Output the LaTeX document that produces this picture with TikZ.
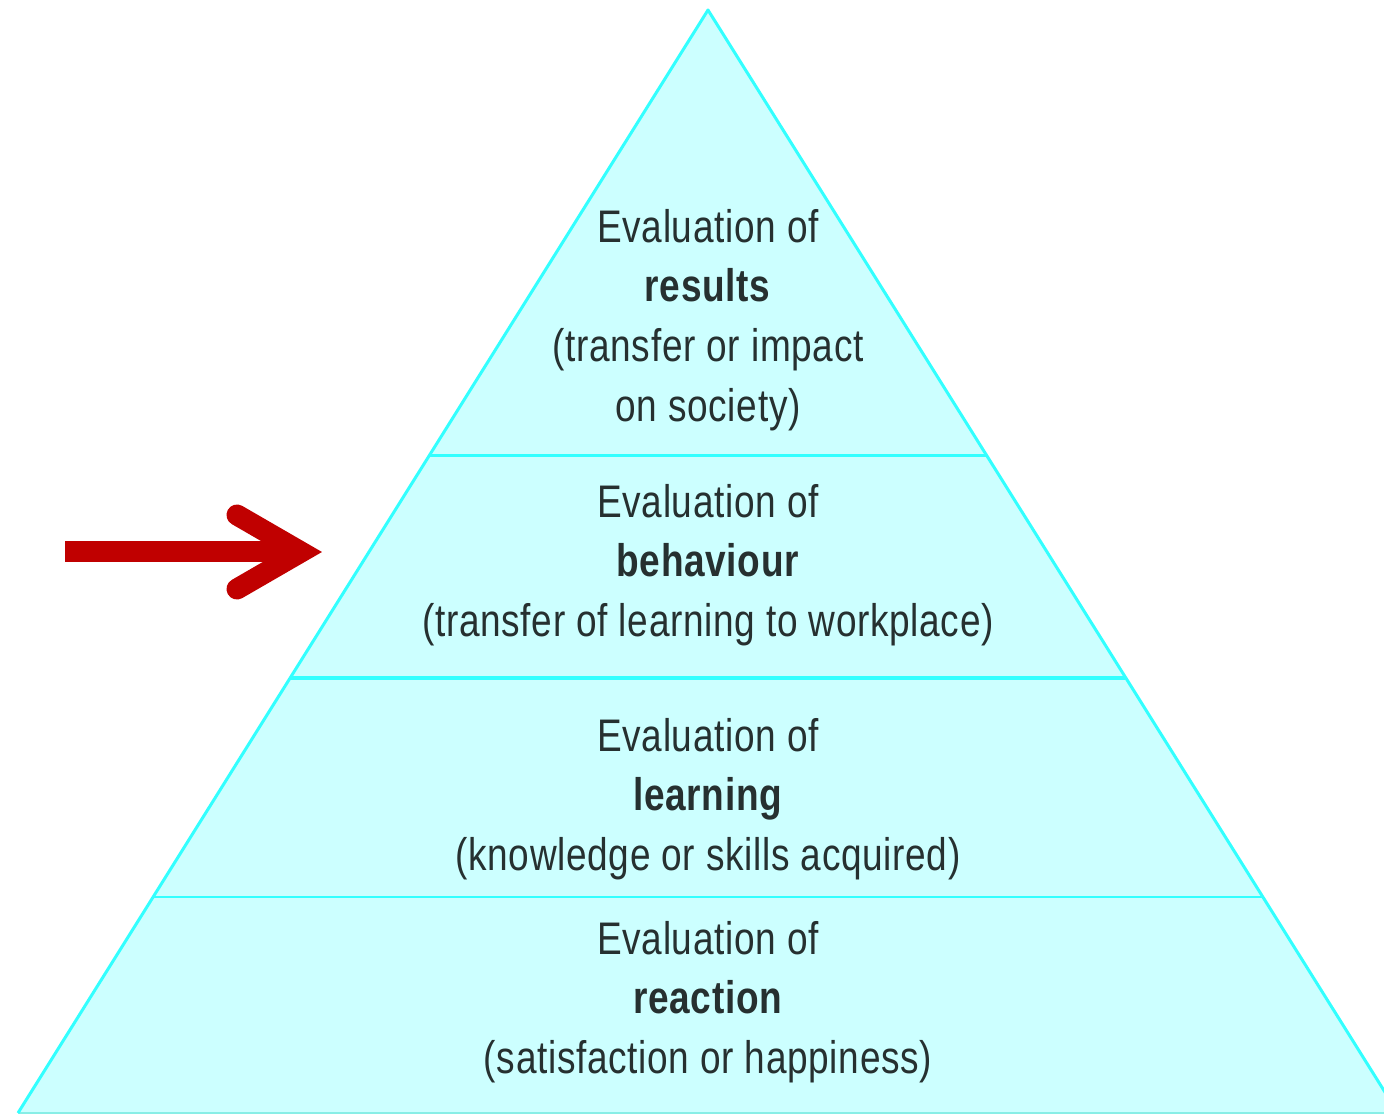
\documentclass[tikz,border=0pt]{standalone}
\usepackage{xcolor}
\usepackage{fontspec}
\usepackage{tikz}
\usetikzlibrary{calc}
\newfontfamily\pyrfont[FakeStretch=0.81,LetterSpace=1.5]{Liberation Sans}
\definecolor{pyrfill}{HTML}{CCFFFF}
\definecolor{pyredge}{HTML}{33FFFF}
\definecolor{pyrbase}{HTML}{88EEE6}
\definecolor{pyrtext}{HTML}{263030}
\definecolor{arrowred}{HTML}{C00000}

\begin{document}
\begin{tikzpicture}[
  x=0.02cm, y=-0.02cm,
  edge/.style={draw=pyredge,line width=0.06cm},
  tier/.style={draw=pyredge,line width=#1},
  tier/.default=0.06cm,
  lbl/.style={font=\pyrfont\fontsize{26}{34}\selectfont,text=pyrtext,align=center,inner sep=0pt},
  redarrow/.style={draw=arrowred,line width=0.42cm},
]
\useasboundingbox (0,0) rectangle (1384,1114);
\clip (0,0) rectangle (1384,1114);

\coordinate (apex) at (708,10);
\coordinate (bl)   at (18,1113);
\coordinate (br)   at (1398,1113);

% pyramid
\fill[pyrfill] (apex) -- (bl) -- (br) -- cycle;
\draw[pyrbase,line width=0.04cm] (bl) -- (br);
\draw[edge,line join=round] (bl) -- (apex) -- (br);

% tiers
\draw[tier] ($(apex)!0.4035!(bl)$) -- ($(apex)!0.4035!(br)$);
\draw[tier=0.08cm] ($(apex)!0.6056!(bl)$) -- ($(apex)!0.6056!(br)$);
\draw[tier=0.045cm] ($(apex)!0.804!(bl)$) -- ($(apex)!0.804!(br)$);

% labels
\node[lbl] (results)   at (708,320)  {Evaluation of\\\textbf{results}\\(transfer or impact\\on society)};
\node[lbl] (behaviour) at (708,565)  {Evaluation of\\\textbf{behaviour}\\(transfer of learning to workplace)};
\node[lbl] (learning)  at (708,799)  {Evaluation of\\\textbf{learning}\\(knowledge or skills acquired)};
\node[lbl] (reaction)  at (708,1002) {Evaluation of\\\textbf{reaction}\\(satisfaction or happiness)};

% arrow
\coordinate (tail) at (65,552);
\coordinate (tip)  at (301,552);
\draw[redarrow] (tail) -- (tip);
\draw[redarrow,line cap=round,line join=miter] (237,515) -- (tip) -- (237,589);
\end{tikzpicture}
\end{document}
